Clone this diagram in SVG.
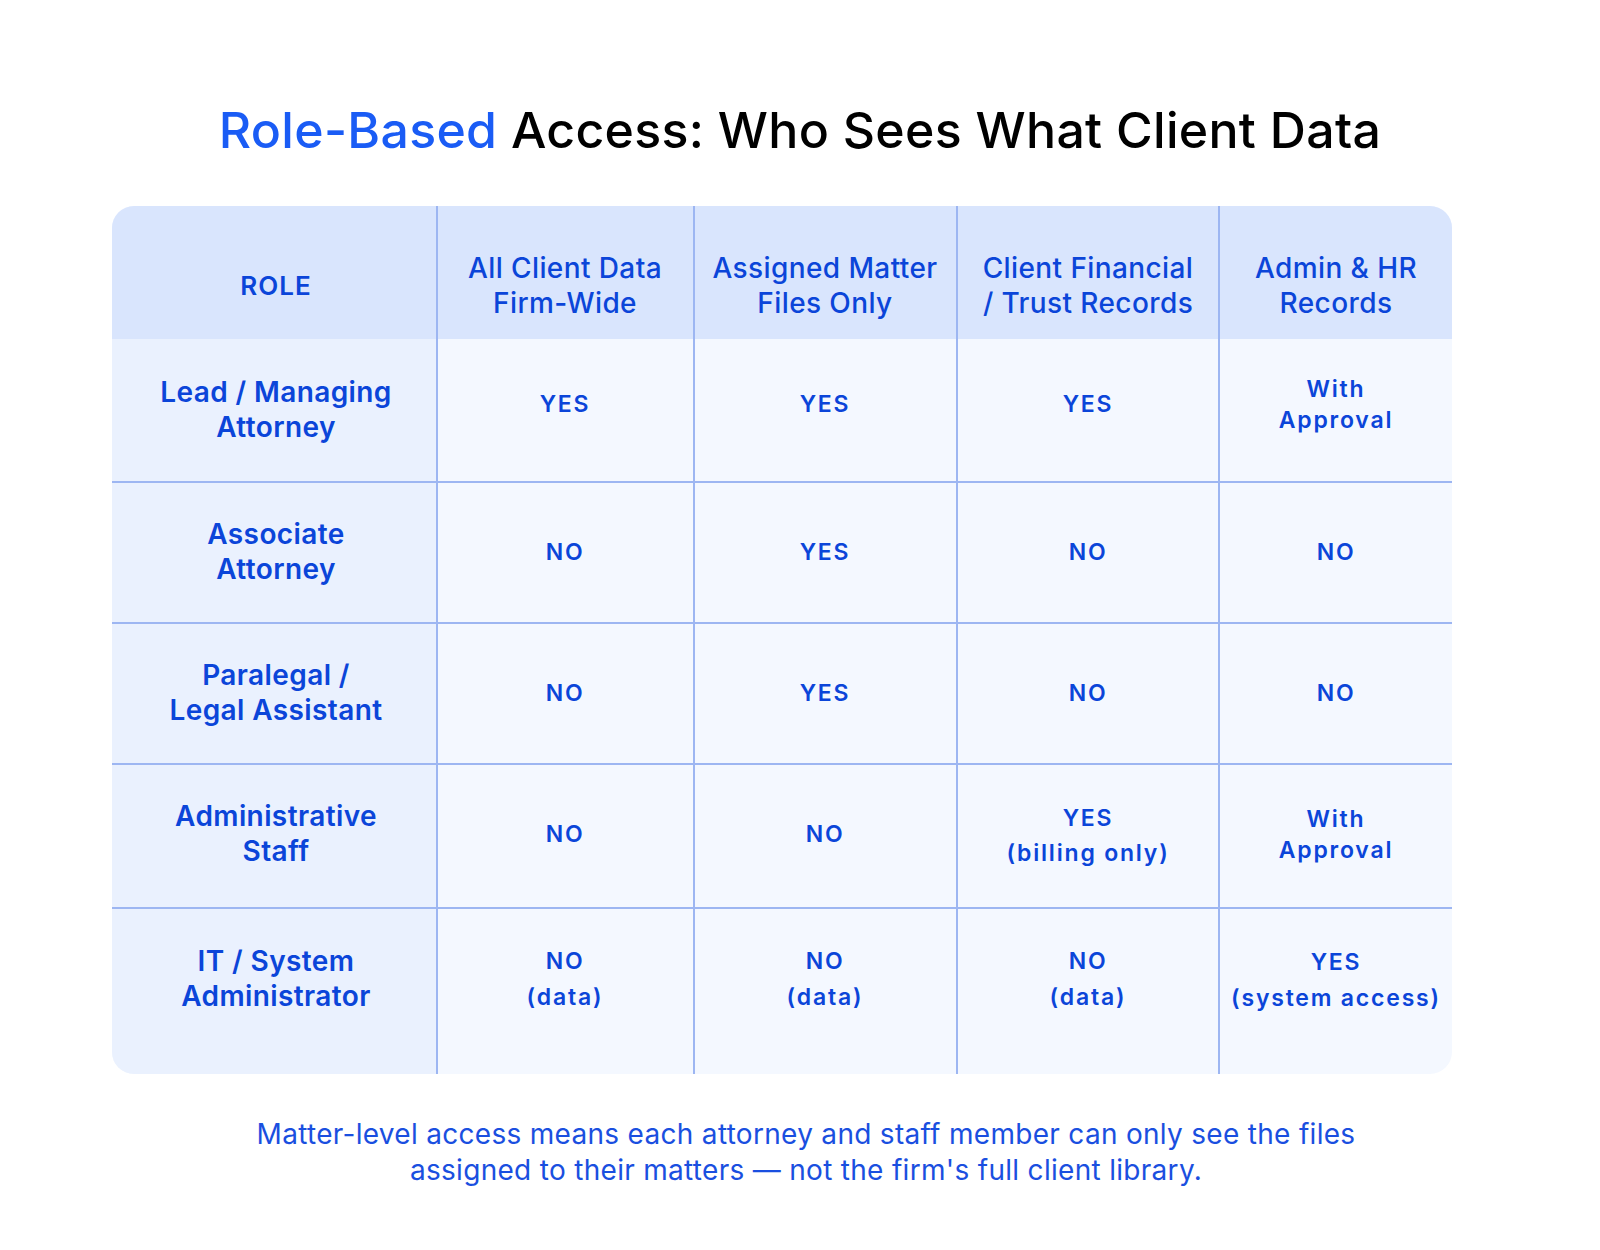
<svg xmlns="http://www.w3.org/2000/svg" width="1600" height="1250" viewBox="0 0 1600 1250">
<style>
text{font-family:Inter,"Noto Sans",sans-serif;fill:#0b45d9;text-anchor:middle}
.h{font-size:28px;font-weight:500;letter-spacing:0.4px}
.k{font-size:26px;font-weight:600;letter-spacing:1px}
.r{font-size:28px;font-weight:600;letter-spacing:0.4px}
.c{font-size:23px;font-weight:600;letter-spacing:1.8px}
.g{stroke:#9db6f2;stroke-width:2;fill:none}
</style>
<rect width="1600" height="1250" fill="#fff"/>
<text x="800" y="148" font-size="50" font-weight="500" letter-spacing="0.3" style="fill:#000"><tspan style="fill:#1a5cf5">Role-Based</tspan> Access: Who Sees What Client Data</text>
<g id="table">
<rect x="112" y="206" width="1340" height="868" rx="22" fill="#f4f8ff"/>
<path d="M112 339V1052a22 22 0 0 0 22 22H437V339Z" fill="#eaf1fe"/>
<path d="M112 339V228a22 22 0 0 1 22-22H1430a22 22 0 0 1 22 22V339Z" fill="#d9e5fd"/>
<g class="g">
<path d="M437 206V1074M694 206V1074M957 206V1074M1219 206V1074"/>
<path d="M112 482H1452M112 623H1452M112 764H1452M112 908H1452"/>
</g>
</g>
<g id="header">
<text class="k" x="276" y="295">ROLE</text>
<text class="h" x="565" y="278">All Client Data</text><text class="h" x="565" y="313">Firm-Wide</text>
<text class="h" x="825" y="278">Assigned Matter</text><text class="h" x="825" y="313">Files Only</text>
<text class="h" x="1088" y="278">Client Financial</text><text class="h" x="1088" y="313">/ Trust Records</text>
<text class="h" x="1336" y="278">Admin &amp; HR</text><text class="h" x="1336" y="313">Records</text>
</g>
<g id="row1">
<text class="r" x="276" y="402">Lead / Managing</text><text class="r" x="276" y="437">Attorney</text>
<text class="c" x="565" y="412">YES</text><text class="c" x="825" y="412">YES</text><text class="c" x="1088" y="412">YES</text>
<text class="c" x="1336" y="397">With</text><text class="c" x="1336" y="428">Approval</text>
</g>
<g id="row2">
<text class="r" x="276" y="544">Associate</text><text class="r" x="276" y="579">Attorney</text>
<text class="c" x="565" y="560">NO</text><text class="c" x="825" y="560">YES</text><text class="c" x="1088" y="560">NO</text><text class="c" x="1336" y="560">NO</text>
</g>
<g id="row3">
<text class="r" x="276" y="685">Paralegal /</text><text class="r" x="276" y="720">Legal Assistant</text>
<text class="c" x="565" y="701">NO</text><text class="c" x="825" y="701">YES</text><text class="c" x="1088" y="701">NO</text><text class="c" x="1336" y="701">NO</text>
</g>
<g id="row4">
<text class="r" x="276" y="826">Administrative</text><text class="r" x="276" y="861">Staff</text>
<text class="c" x="565" y="842">NO</text><text class="c" x="825" y="842">NO</text>
<text class="c" x="1088" y="826">YES</text><text class="c" x="1088" y="861">(billing only)</text>
<text class="c" x="1336" y="827">With</text><text class="c" x="1336" y="858">Approval</text>
</g>
<g id="row5">
<text class="r" x="276" y="971">IT / System</text><text class="r" x="276" y="1006">Administrator</text>
<text class="c" x="565" y="969">NO</text><text class="c" x="565" y="1005">(data)</text>
<text class="c" x="825" y="969">NO</text><text class="c" x="825" y="1005">(data)</text>
<text class="c" x="1088" y="969">NO</text><text class="c" x="1088" y="1005">(data)</text>
<text class="c" x="1336" y="970">YES</text><text class="c" x="1336" y="1006">(system access)</text>
</g>
<text x="806" y="1144" font-size="28" letter-spacing="0.3" style="fill:#1a4fe0">Matter-level access means each attorney and staff member can only see the files</text>
<text x="806" y="1180" font-size="28" letter-spacing="0.3" style="fill:#1a4fe0">assigned to their matters — not the firm's full client library.</text>
</svg>
